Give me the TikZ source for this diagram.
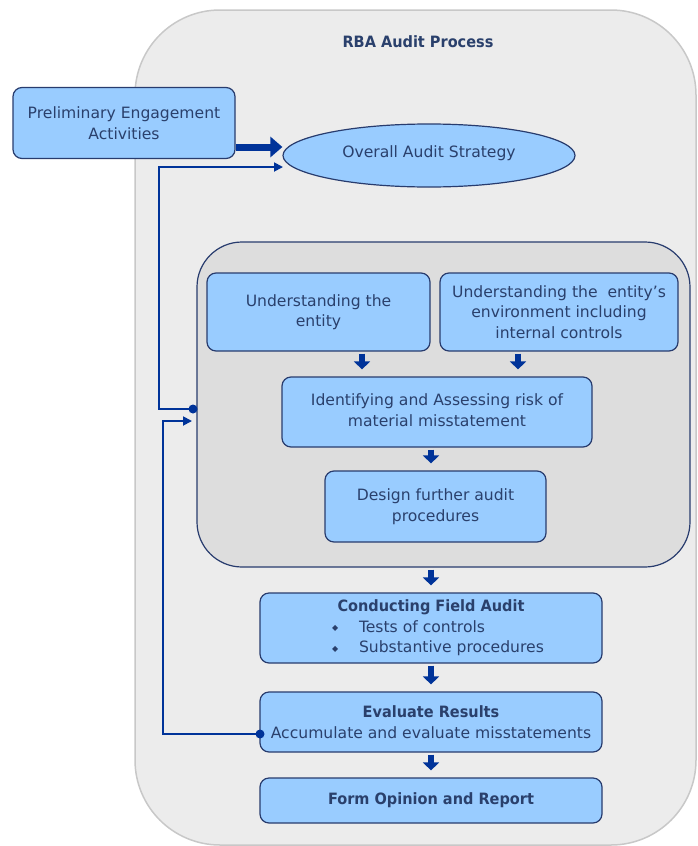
\documentclass[tikz,border=0pt]{standalone}
\usepackage{fontspec}
\setmainfont{DejaVu Sans}[BoldFeatures={FakeStretch=0.93}]
\usetikzlibrary{arrows.meta,shapes.geometric,calc}

\definecolor{panel}{RGB}{236,236,236}
\definecolor{panelline}{RGB}{200,200,200}
\definecolor{groupfill}{RGB}{221,221,221}
\definecolor{boxfill}{RGB}{153,204,255}
\definecolor{boxline}{RGB}{40,60,110}
\definecolor{ink}{RGB}{42,64,108}
\definecolor{flow}{RGB}{0,51,153}

\tikzset{
  txt/.style={font=\fontsize{15.6}{20.5}\selectfont, text=ink},
  stepbox/.style={txt, draw=boxline, line width=1.2pt, fill=boxfill,
    rounded corners=9pt, align=center, inner sep=0pt},
  downarrow/.style={draw=flow, line width=6pt, -{Triangle[length=8pt,width=16pt]},
    shorten <=2pt, shorten >=7pt},
  loopline/.style={draw=flow, line width=1.8pt},
  looparrow/.style={loopline, -{Triangle[length=9pt,width=9pt]}},
}

% one bullet item of the field-audit list
\newcommand{\bulletline}[1]{\makebox[230pt][l]{\hspace*{16pt}\makebox[27pt][l]{\raisebox{1.5pt}{\fontsize{8}{8}\selectfont ◆}}#1}}

\begin{document}
\begin{tikzpicture}[x=1pt,y=-1pt]
  \useasboundingbox (0,0) rectangle (697,846);

  % outer process panel
  \draw[panelline, fill=panel, line width=1.5pt, rounded corners=85pt]
    (135,10) rectangle (696,845);
  \node[txt, font=\fontsize{15.6}{20.5}\selectfont\bfseries] (title) at (418,42) {RBA Audit Process};

  % planning stage
  \node[stepbox, minimum width=222pt, minimum height=71pt] (pre) at (124,123)
    {Preliminary Engagement\\Activities};
  \node[txt, ellipse, draw=boxline, line width=1.2pt, fill=boxfill,
        minimum width=292pt, minimum height=63pt, inner sep=0pt] (strat) at (429,155.5)
    {\raisebox{7pt}{Overall Audit Strategy}};

  % risk assessment group
  \node[draw=boxline, line width=1.2pt, fill=groupfill, rounded corners=45pt,
        minimum width=493pt, minimum height=325pt, inner sep=0pt] (group) at (443.5,404.5) {};

  \node[stepbox, minimum width=223pt, minimum height=78pt] (ent) at (318.5,312)
    {Understanding the\\entity};
  \node[stepbox, minimum width=238pt, minimum height=78pt] (env) at (559,312)
    {Understanding the\ \ entity's\\environment including\\internal controls};
  \node[stepbox, minimum width=310pt, minimum height=70pt] (risk) at (437,412)
    {\raisebox{6pt}{\begin{tabular}{@{}c@{}}Identifying and Assessing risk of\\material misstatement\end{tabular}}};
  \node[stepbox, minimum width=221pt, minimum height=71pt] (design) at (435.5,506.5)
    {Design further audit\\procedures};

  % execution and reporting
  \node[stepbox, minimum width=342pt, minimum height=70pt] (field) at (431,628)
    {\textbf{Conducting Field Audit}\\
     \bulletline{Tests of controls}\\
     \bulletline{Substantive procedures}};
  \node[stepbox, minimum width=342pt, minimum height=60pt] (eval) at (431,722)
    {\textbf{Evaluate Results}\\Accumulate and evaluate misstatements};
  \node[stepbox, minimum width=342pt, minimum height=45pt] (report) at (431,800.5)
    {\textbf{Form Opinion and Report}};

  % flow arrows
  \coordinate (xa) at (362,0);
  \coordinate (xb) at (518,0);
  \coordinate (xc) at (431,0);
  \draw[downarrow] (ent.south -| xa) -- (risk.north -| xa);
  \draw[downarrow] (env.south -| xb) -- (risk.north -| xb);
  \draw[downarrow] (risk.south -| xc) -- (design.north -| xc);
  \draw[downarrow] (group.south -| xc) -- (field.north -| xc);
  \draw[downarrow] (field.south -| xc) -- (eval.north -| xc);
  \draw[downarrow] (eval.south -| xc) -- (report.north -| xc);

  \coordinate (ya) at (0,147);
  \draw[draw=flow, line width=7pt, -{Triangle[length=12pt,width=20pt]}]
    (pre.east |- ya) -- (strat.west |- ya);

  % feedback loops
  \coordinate (d1) at (193,409);
  \coordinate (c1) at (159,409);
  \coordinate (c2) at (159,167);
  \coordinate (t1) at (283,167);
  \draw[looparrow] (d1) -- (c1) -- (c2) -- (t1);
  \fill[flow] (d1) circle (4.5pt);

  \coordinate (d2) at (260,734);
  \coordinate (c3) at (163,734);
  \coordinate (c4) at (163,421);
  \coordinate (t2) at (192,421);
  \draw[looparrow] (d2) -- (c3) -- (c4) -- (t2);
  \fill[flow] (d2) circle (4.5pt);
\end{tikzpicture}
\end{document}
